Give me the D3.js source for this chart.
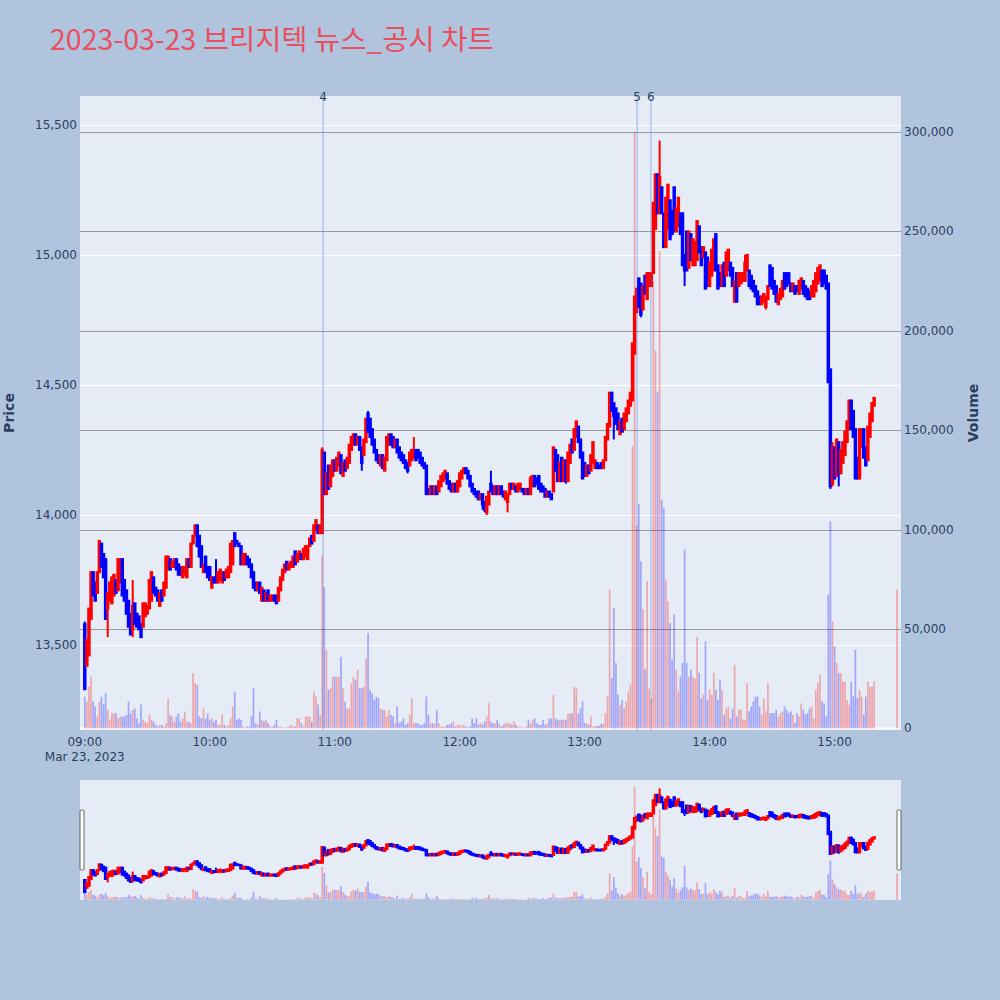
<!DOCTYPE html>
<html><head><meta charset="utf-8">
<script src="https://cdn.jsdelivr.net/npm/d3@7"></script>
<style>html,body{margin:0;padding:0;background:#b0c4de;}svg{display:block}</style>
</head><body>
<svg id="chart" width="1000" height="1000"></svg>
<script>
// ---------------- data ----------------
const chartTitle = "2023-03-23 브리지텍 뉴스_공시 차트";
const sessionStart = "2023-03-23T09:00:00";   // first 1-minute candle
const closingAuction = "2023-03-23T15:30:00"; // last (closing) candle
const opens = [
13580,13420,13460,13600,13780,13740,13700,13780,13890,13850,
13830,13640,13670,13660,13690,13750,13710,13740,13830,13750,
13710,13670,13620,13560,13660,13620,13610,13580,13570,13610,
13620,13640,13670,13760,13720,13710,13650,13710,13690,13720,
13790,13830,13800,13800,13830,13810,13800,13760,13770,13760,
13830,13800,13890,13920,13960,13920,13880,13780,13840,13800,
13800,13720,13760,13760,13740,13750,13740,13780,13760,13760,
13780,13810,13930,13900,13890,13880,13810,13810,13840,13830,
13810,13780,13740,13710,13740,13670,13710,13670,13710,13670,
13670,13690,13690,13670,13710,13750,13780,13820,13790,13800,
13800,13860,13820,13830,13850,13830,13840,13830,13880,13920,
13900,13940,13960,13930,13930,14240,14080,14190,14110,14150,
14210,14170,14190,14230,14150,14210,14180,14200,14250,14270,
14310,14270,14300,14260,14230,14280,14390,14370,14330,14290,
14250,14230,14190,14230,14170,14210,14270,14310,14300,14260,
14290,14260,14240,14230,14210,14200,14190,14210,14220,14250,
14250,14240,14220,14200,14190,14100,14080,14110,14080,14110,
14090,14110,14130,14140,14160,14130,14120,14090,14120,14090,
14110,14140,14160,14180,14170,14150,14120,14100,14090,14090,
14060,14080,14050,14010,14040,14120,14110,14080,14110,14080,
14110,14090,14060,14050,14080,14120,14100,14110,14090,14100,
14100,14100,14080,14100,14080,14110,14150,14140,14150,14120,
14110,14100,14070,14090,14080,14090,14250,14230,14130,14220,
14130,14210,14130,14200,14290,14250,14300,14340,14290,14240,
14200,14150,14190,14170,14200,14180,14200,14190,14200,14180,
14210,14290,14340,14470,14430,14410,14390,14310,14370,14330,
14360,14390,14420,14440,14620,14780,14910,14890,14790,14920,
14830,14880,14880,14930,15100,15310,15160,15260,15160,15030,
15100,15210,15170,15260,15090,15110,15160,15160,15000,15090,
14950,15080,14960,14960,14980,15110,15030,14990,15010,14990,
14880,14920,14940,15080,14960,14930,14880,14970,14920,14940,
14970,14950,14820,14930,14880,14890,14900,14900,14940,14940,
14920,14900,14880,14860,14840,14810,14820,14800,14830,14960,
14950,14900,14880,14810,14830,14840,14930,14930,14930,14890,
14860,14880,14880,14850,14870,14900,14880,14870,14860,14840,
14840,14860,14890,14900,14940,14940,14920,14890,14560,14120,
14260,14150,14280,14160,14200,14230,14280,14330,14440,14400,
14330,14220,14140,14260,14330,14260,14210,14300,14360,14420,
14460];
const highs = [
13590,13520,13640,13780,13780,13740,13780,13900,13890,13850,
13830,13700,13740,13760,13770,13750,13830,13830,13830,13750,
13710,13670,13620,13750,13660,13620,13610,13580,13660,13660,
13650,13750,13780,13760,13720,13710,13700,13710,13740,13840,
13840,13830,13820,13830,13830,13810,13800,13800,13800,13830,
13830,13890,13920,13960,13960,13920,13880,13810,13840,13800,
13800,13760,13760,13830,13780,13790,13780,13780,13790,13800,
13890,13900,13930,13900,13890,13880,13850,13850,13840,13830,
13810,13780,13740,13740,13740,13720,13710,13700,13710,13690,
13690,13690,13690,13720,13760,13790,13810,13820,13810,13820,
13840,13860,13850,13860,13850,13870,13880,13880,13910,13920,
13960,13980,13960,13960,14260,14240,14160,14190,14190,14210,
14210,14220,14240,14230,14200,14210,14220,14270,14300,14310,
14310,14300,14300,14260,14290,14370,14400,14370,14330,14290,
14250,14230,14230,14230,14220,14300,14310,14310,14300,14290,
14290,14260,14240,14230,14210,14200,14240,14250,14300,14250,
14250,14240,14220,14200,14190,14100,14110,14110,14110,14110,
14130,14150,14160,14170,14160,14130,14120,14120,14120,14130,
14160,14170,14180,14180,14170,14150,14120,14100,14090,14090,
14080,14080,14050,14070,14090,14170,14110,14110,14110,14110,
14110,14090,14090,14080,14120,14120,14120,14110,14120,14120,
14100,14100,14100,14100,14150,14150,14150,14140,14150,14120,
14110,14100,14090,14090,14080,14260,14250,14230,14200,14220,
14210,14210,14240,14270,14290,14330,14360,14340,14290,14240,
14200,14190,14190,14230,14280,14210,14200,14190,14200,14210,
14300,14350,14470,14470,14430,14410,14390,14360,14370,14390,
14410,14440,14470,14660,14840,14870,14910,14890,14880,14920,
14930,14930,14930,15200,15310,15310,15440,15260,15160,15220,
15270,15210,15170,15260,15180,15220,15160,15160,15000,15090,
15090,15080,15060,15050,15130,15110,15030,15030,15010,14990,
14970,15020,15060,15080,14960,14930,14960,14970,15010,15020,
14970,14950,14900,14930,14930,14930,14930,15000,15000,14940,
14920,14900,14880,14860,14840,14840,14850,14840,14880,14960,
14950,14900,14880,14850,14870,14900,14930,14930,14930,14890,
14890,14880,14880,14900,14910,14900,14880,14870,14860,14880,
14900,14930,14950,14960,14940,14940,14920,14890,14560,14280,
14260,14290,14280,14250,14280,14320,14360,14440,14440,14400,
14330,14220,14330,14330,14330,14260,14340,14390,14430,14450,
14460];
const lows = [
13330,13420,13460,13600,13690,13670,13700,13780,13800,13760,
13600,13530,13670,13660,13690,13700,13710,13740,13690,13670,
13620,13570,13540,13530,13580,13570,13560,13530,13570,13610,
13620,13640,13670,13700,13690,13670,13650,13670,13690,13720,
13790,13790,13800,13800,13790,13770,13770,13760,13770,13760,
13800,13800,13890,13920,13880,13840,13800,13780,13780,13760,
13750,13720,13740,13740,13740,13750,13740,13750,13760,13760,
13780,13810,13880,13890,13880,13810,13810,13810,13810,13800,
13760,13720,13710,13710,13700,13670,13670,13670,13670,13670,
13670,13670,13660,13670,13710,13750,13780,13790,13790,13800,
13800,13810,13820,13830,13830,13830,13840,13830,13880,13890,
13900,13940,13930,13930,13930,14080,14080,14100,14110,14150,
14170,14170,14190,14160,14150,14170,14180,14200,14250,14270,
14270,14270,14250,14170,14230,14280,14320,14300,14270,14240,
14210,14200,14190,14180,14170,14210,14270,14270,14260,14260,
14240,14220,14210,14200,14180,14160,14190,14210,14220,14210,
14220,14200,14190,14180,14080,14080,14080,14080,14080,14080,
14090,14110,14130,14140,14120,14100,14090,14090,14090,14090,
14110,14140,14160,14160,14140,14110,14090,14080,14070,14060,
14060,14020,14010,14000,14040,14090,14080,14080,14080,14080,
14080,14070,14060,14010,14080,14100,14100,14090,14090,14100,
14090,14080,14080,14080,14080,14110,14110,14120,14100,14090,
14090,14070,14070,14070,14060,14090,14170,14130,14130,14130,
14130,14120,14130,14200,14240,14250,14300,14280,14220,14140,
14150,14150,14160,14170,14200,14180,14180,14180,14180,14180,
14210,14290,14340,14400,14290,14350,14330,14310,14320,14330,
14360,14390,14420,14440,14620,14780,14800,14760,14790,14850,
14830,14880,14880,14930,15100,15160,15160,15160,15030,15030,
15100,15060,15080,15090,15090,15110,15080,14960,14880,14940,
14950,14980,14960,14960,14980,15010,14960,14990,14870,14880,
14880,14920,14940,14940,14870,14880,14880,14880,14920,14940,
14920,14880,14820,14820,14880,14890,14900,14900,14940,14880,
14870,14860,14840,14810,14810,14810,14820,14790,14830,14880,
14870,14850,14820,14810,14830,14840,14870,14880,14890,14860,
14860,14850,14860,14850,14870,14850,14840,14830,14830,14840,
14840,14860,14890,14900,14880,14890,14870,14510,14100,14110,
14140,14150,14110,14160,14200,14230,14280,14330,14330,14300,
14140,14140,14140,14260,14220,14190,14210,14300,14360,14420,
14460];
const closes = [
13330,13520,13640,13780,13690,13670,13780,13900,13800,13760,
13600,13700,13740,13760,13770,13700,13830,13830,13690,13670,
13620,13570,13540,13650,13580,13570,13560,13530,13660,13660,
13650,13750,13780,13700,13690,13670,13700,13670,13740,13840,
13840,13790,13820,13830,13790,13770,13770,13800,13800,13830,
13800,13890,13920,13960,13880,13840,13800,13810,13780,13760,
13750,13760,13740,13740,13780,13790,13780,13750,13790,13800,
13890,13900,13880,13890,13880,13810,13850,13850,13810,13800,
13760,13720,13710,13740,13700,13720,13670,13700,13670,13690,
13690,13670,13660,13720,13760,13790,13810,13790,13810,13820,
13840,13810,13850,13860,13830,13870,13880,13880,13910,13890,
13960,13980,13930,13960,14250,14080,14160,14100,14190,14210,
14170,14220,14240,14160,14200,14170,14220,14270,14300,14310,
14270,14300,14250,14200,14290,14370,14320,14300,14270,14240,
14210,14200,14230,14180,14220,14300,14310,14270,14260,14290,
14240,14220,14210,14200,14180,14170,14240,14250,14250,14210,
14220,14200,14190,14180,14080,14080,14110,14080,14110,14080,
14130,14150,14160,14170,14120,14100,14090,14120,14090,14130,
14160,14170,14180,14160,14140,14110,14090,14080,14070,14060,
14080,14040,14020,14070,14090,14090,14080,14110,14080,14110,
14080,14070,14090,14080,14120,14100,14120,14090,14120,14120,
14090,14080,14100,14080,14140,14150,14110,14120,14100,14090,
14090,14070,14090,14070,14060,14260,14170,14130,14200,14130,
14210,14130,14240,14270,14240,14330,14360,14280,14220,14140,
14150,14190,14160,14230,14280,14210,14180,14180,14180,14210,
14300,14350,14470,14400,14380,14350,14330,14360,14320,14390,
14410,14440,14470,14660,14840,14870,14800,14770,14880,14850,
14930,14930,14930,15200,15310,15160,15300,15160,15030,15220,
15270,15060,15080,15090,15180,15220,15080,14960,14940,14940,
15090,14980,15060,15050,15130,15010,14960,15030,14870,14880,
14970,15020,15060,14940,14870,14880,14960,14880,15010,15020,
14920,14880,14900,14820,14930,14930,14930,14970,15000,14880,
14870,14860,14840,14810,14810,14840,14850,14840,14880,14880,
14870,14850,14820,14850,14870,14900,14870,14880,14890,14860,
14890,14850,14860,14900,14910,14850,14840,14830,14830,14880,
14900,14930,14950,14960,14880,14890,14870,14510,14110,14260,
14140,14290,14160,14250,14280,14320,14360,14440,14330,14300,
14140,14140,14330,14330,14220,14190,14340,14390,14430,14450,
14460];
const volumes = [
16000,13500,21000,26000,13500,11000,6000,13500,16000,12000,
17700,9300,4300,7600,7600,7600,5000,6000,6000,6000,
6800,13500,7600,9300,10000,5000,2600,12000,4300,3400,
2600,6800,4300,3400,1800,900,1800,1800,900,2600,
15000,6800,6000,3400,6000,7600,3400,5000,8500,3400,
3400,2600,27800,22700,21900,6000,5000,10000,5000,7600,
4300,5000,3400,4300,1800,1800,6800,1800,900,1800,
5000,11000,18500,4300,5000,4300,900,500,900,900,
6000,20200,2600,1800,8500,4300,3400,4300,2600,900,
900,1800,4300,900,900,500,500,500,900,1800,
900,900,5000,5000,2600,900,6000,6000,6000,3400,
18500,16000,12000,6800,87000,71000,39500,19400,20200,26000,
26000,26000,26000,36000,20200,13500,10000,10000,22700,26000,
24400,29400,20200,20200,21000,35300,47900,19400,17700,14400,
16000,15200,10000,9300,9300,6000,9300,6800,6000,2600,
11000,2600,3400,5000,1800,2600,6800,15200,2700,2600,
2600,1800,1800,2600,16000,6800,2600,2600,2600,9300,
2600,900,900,900,1800,1800,2600,3400,900,1800,
1800,900,1800,900,500,900,5000,2600,5000,1800,
2600,1800,3400,6000,12700,3400,2600,2600,4300,2600,
900,1800,2600,2600,2600,1800,3400,1800,900,900,
500,300,900,4300,2600,4300,5000,2600,1800,1800,
4300,1800,2600,5000,5000,16900,5000,4300,4300,4300,
4300,4300,7200,7600,7600,21000,20000,7600,10000,13600,
2600,2600,1800,6000,1000,1000,1300,1300,2300,2300,
7700,16000,69800,25300,60600,32900,17000,11900,14400,10200,
13600,18600,22000,142000,300000,102000,113000,84000,60000,30000,
74000,20000,15000,225000,190000,169000,240000,115000,111000,74800,
64000,53000,34600,57200,29500,18600,26200,32900,90000,33000,
26000,29500,26000,25000,46000,28000,15000,17000,43800,14400,
19500,17000,28000,19500,14400,24500,19500,6900,10000,11000,
5000,10000,32000,6000,9400,9400,4400,4400,22800,8600,
11000,13600,16000,16000,11000,6900,15000,8600,22800,7700,
7700,7700,9400,6000,7700,8600,11000,9400,7700,8600,
6900,2700,7700,6000,12600,9400,6900,7700,10000,11000,
5000,19500,22800,27000,13600,12600,6000,67300,104200,53900,
41300,32900,27900,27900,23500,23500,14400,11900,23500,16000,
39600,15300,19500,16000,6900,16000,23500,21000,21000,23500,
69800];
const priceTicks = [13500, 14000, 14500, 15000, 15500];
const volumeTicks = [0, 50000, 100000, 150000, 200000, 250000, 300000];
const timeTickLabels = ["09:00","10:00","11:00","12:00","13:00","14:00","15:00"];
const eventLabels = ["4", "5", "6"];
const eventTimes = ["10:54:25", "13:25:10", "13:31:50"];

// ---------------- layout ----------------
const day = "2023-03-23T";
const parse = d3.timeParse("%Y-%m-%dT%H:%M:%S");
const t0 = parse(sessionStart);
const n = opens.length;
const times = opens.map((_, i) => i === n - 1 ? parse(closingAuction) : d3.timeMinute.offset(t0, i));
const candles = times.map((t, i) => ({t, o: opens[i], h: highs[i], l: lows[i], c: closes[i], v: volumes[i]}));

const P = {l: 80, r: 901, t: 96, b: 730};
const S = {t: 780, b: 900};
const x = d3.scaleTime().domain([parse(day + "08:57:42"), parse(day + "15:31:54")]).range([P.l, P.r]);
const yP = d3.scaleLinear().domain([13173, 15611]).range([P.b, P.t]);
const yV = d3.scaleLinear().domain([-800, 318100]).range([P.b, P.t]);
const yPs = yP.copy().range([S.b, S.t]);
const yVs = yV.copy().range([S.b, S.t]);

const UP = "#ff0000", DN = "#0000ff";
const colorOf = d => d.c >= d.o ? UP : DN;
const FONT = "'DejaVu Sans', Verdana, sans-serif";
const TXT = "#2a3f5f";

const svg = d3.select("#chart");
svg.append("rect").attr("width", 1000).attr("height", 1000).attr("fill", "#b0c4de");

// title
svg.append("text").attr("x", 50).attr("y", 50)
  .attr("font-family", "'Noto Sans CJK KR', sans-serif").attr("font-size", 28.5)
  .attr("fill", "#ea4f60").text(chartTitle);

// plot area
svg.append("rect").attr("x", P.l).attr("y", P.t).attr("width", P.r - P.l).attr("height", P.b - P.t).attr("fill", "#e5ecf6");
const defs = svg.append("defs");
defs.append("clipPath").attr("id", "clipMain").append("rect").attr("x", P.l).attr("y", P.t).attr("width", P.r - P.l).attr("height", P.b - P.t);
defs.append("clipPath").attr("id", "clipSlider").append("rect").attr("x", P.l).attr("y", S.t).attr("width", P.r - P.l).attr("height", S.b - S.t);

// grid
const grid = svg.append("g");
grid.selectAll(".gp").data(priceTicks).join("line")
  .attr("x1", P.l).attr("x2", P.r).attr("y1", d => Math.round(yP(d)) + 0.5).attr("y2", d => Math.round(yP(d)) + 0.5)
  .attr("stroke", "#ffffff").attr("stroke-width", 1);
grid.selectAll(".gv").data(volumeTicks).join("line")
  .attr("x1", P.l).attr("x2", P.r).attr("y1", d => Math.round(yV(d)) + 0.5).attr("y2", d => Math.round(yV(d)) + 0.5)
  .attr("stroke", d => d === 0 ? "#ffffff" : "#999999").attr("stroke-width", d => d === 0 ? 2 : 1);

// draw function (volume bars + candles) for main and slider
const step = x(d3.timeMinute.offset(t0, 1)) - x(t0);
function drawSeries(g, yPr, yVo, stroke) {
  g.selectAll(".vol").data(candles).join("rect").attr("class", "vol")
    .attr("x", d => x(d.t) - step * 0.4).attr("width", step * 0.8)
    .attr("y", d => yVo(d.v)).attr("height", d => Math.max(0, yVo(0) - yVo(d.v)))
    .attr("fill", colorOf).attr("fill-opacity", 0.3);
  const cg = g.selectAll(".cdl").data(candles).join("g").attr("class", "cdl")
    .attr("stroke", colorOf).attr("fill", colorOf);
  cg.append("line").attr("x1", d => x(d.t)).attr("x2", d => x(d.t))
    .attr("y1", d => yPr(d.h)).attr("y2", d => yPr(d.l)).attr("stroke-width", stroke);
  cg.append("rect").attr("x", d => x(d.t) - step * 0.35).attr("width", step * 0.7)
    .attr("y", d => yPr(Math.max(d.o, d.c))).attr("height", d => Math.abs(yPr(d.o) - yPr(d.c)))
    .attr("stroke-width", stroke);
}
const main = svg.append("g").attr("clip-path", "url(#clipMain)");
drawSeries(main, yP, yV, 2);

// event lines
const ev = svg.append("g");
eventTimes.forEach((et, i) => {
  const xx = x(parse(day + et));
  ev.append("line").attr("x1", xx).attr("x2", xx).attr("y1", P.t).attr("y2", P.b)
    .attr("stroke", "rgba(65,105,225,0.45)").attr("stroke-width", 1);
  ev.append("text").attr("x", xx).attr("y", 101).attr("text-anchor", "middle")
    .attr("font-family", FONT).attr("font-size", 12).attr("fill", "#2a3f5f").text(eventLabels[i]);
});

// axes labels
const ax = svg.append("g").attr("font-family", FONT).attr("font-size", 12).attr("fill", TXT);
ax.selectAll(".pt").data(priceTicks).join("text").attr("x", 77).attr("y", d => yP(d) + 4)
  .attr("text-anchor", "end").text(d => d3.format(",")(d));
ax.selectAll(".vt").data(volumeTicks).join("text").attr("x", 904).attr("y", d => yV(d) + 4)
  .attr("text-anchor", "start").text(d => d3.format(",")(d));
ax.selectAll(".xt").data(timeTickLabels).join("text")
  .attr("x", d => x(parse(day + d + ":00"))).attr("y", 746).attr("text-anchor", "middle").text(d => d);
ax.append("text").attr("x", x(parse(day + timeTickLabels[0] + ":00"))).attr("y", 761)
  .attr("text-anchor", "middle").text(d3.timeFormat("%b %-d, %Y")(t0));
svg.append("text").attr("transform", `translate(14,${(P.t + P.b) / 2}) rotate(-90)`)
  .attr("text-anchor", "middle").attr("font-family", FONT).attr("font-size", 14).attr("font-weight", "bold")
  .attr("fill", TXT).text("Price");
svg.append("text").attr("transform", `translate(978,${(P.t + P.b) / 2}) rotate(-90)`)
  .attr("text-anchor", "middle").attr("font-family", FONT).attr("font-size", 14).attr("font-weight", "bold")
  .attr("fill", TXT).text("Volume");

// range slider
svg.append("rect").attr("x", P.l).attr("y", S.t).attr("width", P.r - P.l).attr("height", S.b - S.t).attr("fill", "#e5ecf6");
const sl = svg.append("g").attr("clip-path", "url(#clipSlider)");
drawSeries(sl, yPs, yVs, 2);
[P.l + 2, P.r - 2].forEach(hx => {
  svg.append("rect").attr("x", hx - 2).attr("y", S.t + (S.b - S.t) * 0.25).attr("width", 4).attr("height", (S.b - S.t) * 0.5)
    .attr("rx", 1).attr("fill", "#fff").attr("stroke", "#666").attr("stroke-width", 1);
});
</script>
</body></html>
